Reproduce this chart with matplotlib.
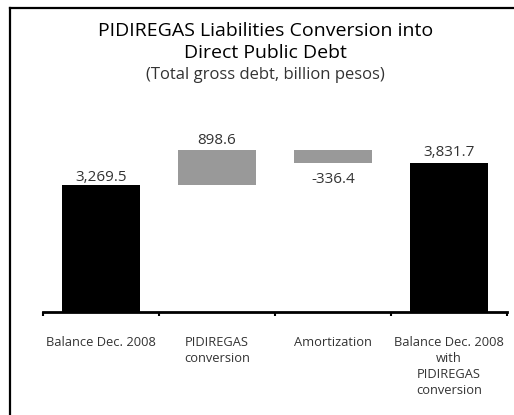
import numpy as np
import matplotlib
matplotlib.use("Agg")
import matplotlib.pyplot as plt
from matplotlib.lines import Line2D

# datos del grafico (miles de millones de pesos)
categorias = ["Balance Dec. 2008", "PIDIREGAS\nconversion", "Amortization",
              "Balance Dec. 2008\nwith\nPIDIREGAS\nconversion"]
saldo_inicial = 3269.5
conversion = 898.6
amortizacion = -336.4
saldo_final = 3831.7
etiquetas = ["3,269.5", "898.6", "-336.4", "3,831.7"]

plt.rcParams['font.family'] = ['Open Sans', 'DejaVu Sans']

fig = plt.figure(figsize=(5.14, 4.15), dpi=100)

# marco (linea superior e izquierda)
fig.add_artist(Line2D([10/514, 1.0], [1 - 8/415, 1 - 8/415], color="black", lw=1.6,
                      transform=fig.transFigure))
fig.add_artist(Line2D([10/514, 10/514], [0, 1 - 8/415], color="black", lw=1.6,
                      transform=fig.transFigure))

# titulo
fig.text(0.517, 1 - 31/415, "PIDIREGAS Liabilities Conversion into", ha="center",
         va="center", fontsize=14)
fig.text(0.517, 1 - 53/415, "Direct Public Debt", ha="center", va="center", fontsize=14)
fig.text(0.517, 1 - 75/415, "(Total gross debt, billion pesos)", ha="center",
         va="center", fontsize=12, color="#333333")

ax = fig.add_axes([43/514, 103.3/415, 464/514, 0.4667])

x = np.arange(len(categorias))
fondos = [0, saldo_inicial, saldo_inicial + conversion + amortizacion, 0]
alturas = [saldo_inicial, conversion, -amortizacion, saldo_final]
colores = ["black", "#999999", "#999999", "black"]

ax.bar(x, alturas, bottom=fondos, width=0.68, color=colores)

# etiquetas de valores
ax.annotate(etiquetas[0], (x[0], saldo_inicial), xytext=(0, 0), textcoords="offset points",
            ha="center", va="bottom", fontsize=11, color="#333333")
ax.annotate(etiquetas[1], (x[1], saldo_inicial + conversion), xytext=(0, 1.5),
            textcoords="offset points", ha="center", va="bottom", fontsize=11, color="#333333")
ax.annotate(etiquetas[2], (x[2], saldo_inicial + conversion + amortizacion), xytext=(0, -6),
            textcoords="offset points", ha="center", va="top", fontsize=11, color="#333333")
ax.annotate(etiquetas[3], (x[3], saldo_final), xytext=(0, 2), textcoords="offset points",
            ha="center", va="bottom", fontsize=11, color="#333333")

ax.set_xlim(-0.5, 3.5)
ax.set_ylim(0, 5000)
ax.set_xticks(x)
ax.set_xticklabels(categorias, fontsize=9.3, color="#333333", linespacing=1.3)
ax.tick_params(axis="x", which="major", length=0, pad=17.5)
ax.set_xticks(np.arange(-0.5, 4, 1), minor=True)
ax.tick_params(axis="x", which="minor", length=3, width=1.5, direction="out")
ax.set_yticks([])
for s in ["top", "right", "left"]:
    ax.spines[s].set_visible(False)
ax.spines["bottom"].set_linewidth(2)

fig.savefig("out.png", dpi=100)
